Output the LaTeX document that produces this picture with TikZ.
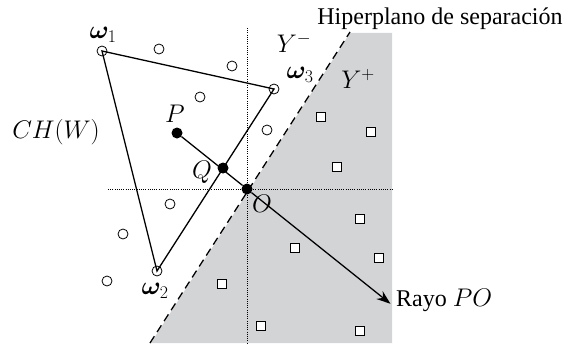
\documentclass[tikz,border=0pt]{standalone}
\usepackage{fix-cm}
\usepackage{amsmath,bm}
\usepackage{fontspec}
\setmainfont{Liberation Serif}
\usetikzlibrary{arrows.meta,calc}
\definecolor{regiongray}{RGB}{211,212,214}
\tikzset{
  lbl/.style={font=\fontsize{24}{28}\selectfont, inner sep=0pt},
  mlbl/.style={font=\fontsize{25.5}{30}\selectfont, inner sep=0pt},
  opencirc/.style={circle, draw, inner sep=0pt, minimum size=10pt, line width=0.8pt},
  sqpt/.style={rectangle, draw, fill=white, inner sep=0pt, minimum size=9pt, line width=0.8pt},
  bigdot/.style={circle, fill=black, inner sep=0pt, minimum size=11pt},
  edge/.style={line width=1.3pt},
  guide/.style={line width=1pt, dash pattern=on 1pt off 1.2pt},
}
\begin{document}
\begin{tikzpicture}[x=1pt,y=-1pt]
\useasboundingbox (0,0) rectangle (575,345);
% shaded half-plane
\fill[regiongray] (350,33) -- (392,33) -- (392,343) -- (151,343) -- cycle;
% separating hyperplane
\coordinate (hb) at (150,343);
\coordinate (ht) at (350,32);
\draw[line width=1.3pt, dash pattern=on 8pt off 5pt] (hb) -- (ht);
% dotted axes
\coordinate (vt) at (247,28);
\coordinate (vb) at (247,343);
\coordinate (hl) at (108,189);
\coordinate (hr) at (392,189);
\draw[guide] (vt) -- (vb);
\draw[guide] (hl) -- (hr);
% hull vertices
\node[opencirc] (w1) at (102,51) {};
\node[opencirc] (w3) at (274,89) {};
\node[opencirc] (w2) at (157,271) {};
\draw[edge] (w1.center) -- (w3.center) -- (w2.center) -- cycle;
% other circle points
\foreach \i/\p in {a/{(159,49)}, b/{(232,66)}, c/{(200,97)}, d/{(267,130)}, e/{(170,204)}, f/{(123,234)}, g/{(107,281)}}
  \node[opencirc] (c\i) at \p {};
% square points
\foreach \i/\p in {a/{(321,117)}, b/{(371,132)}, c/{(337,167)}, d/{(360,219)}, e/{(295,248)}, f/{(379,258)}, g/{(222,284)}, h/{(261,326)}, k/{(360,331)}}
  \node[sqpt] (s\i) at \p {};
% P, Q, O
\node[bigdot] (P) at (177,133) {};
\node[bigdot] (Q) at (223,168) {};
\node[bigdot] (O) at (247,189) {};
\coordinate (R) at ($(P)!3.05!(O)$);
\draw[edge] (P) -- (O);
\draw[edge, -{Stealth[length=14pt,width=10pt]}] (O) -- (R);
% labels
\node[mlbl] (lw1) at (103,35) {$\bm{\omega}_1$};
\node[mlbl] (lw3) at (300,75) {$\bm{\omega}_3$};
\node[mlbl] (lw2) at (155,291) {$\bm{\omega}_2$};
\node[mlbl] (lP) at (175,114) {$P$};
\node[mlbl] (lQ) at (202,172) {$Q$};
\node[mlbl] (lO) at (262,204) {$O$};
\node[mlbl] (lCH) at (56,132) {$CH(W)$};
\node[mlbl] (lYm) at (294,43) {$Y^-$};
\node[mlbl] (lYp) at (358,79) {$Y^+$};
\node[lbl] (lH) at (440,19) {Hiperplano de separación};
\node[lbl, anchor=west] (lR) at (396,300) {Rayo {\fontsize{25.5}{30}\selectfont$PO$}};
\end{tikzpicture}
\end{document}
